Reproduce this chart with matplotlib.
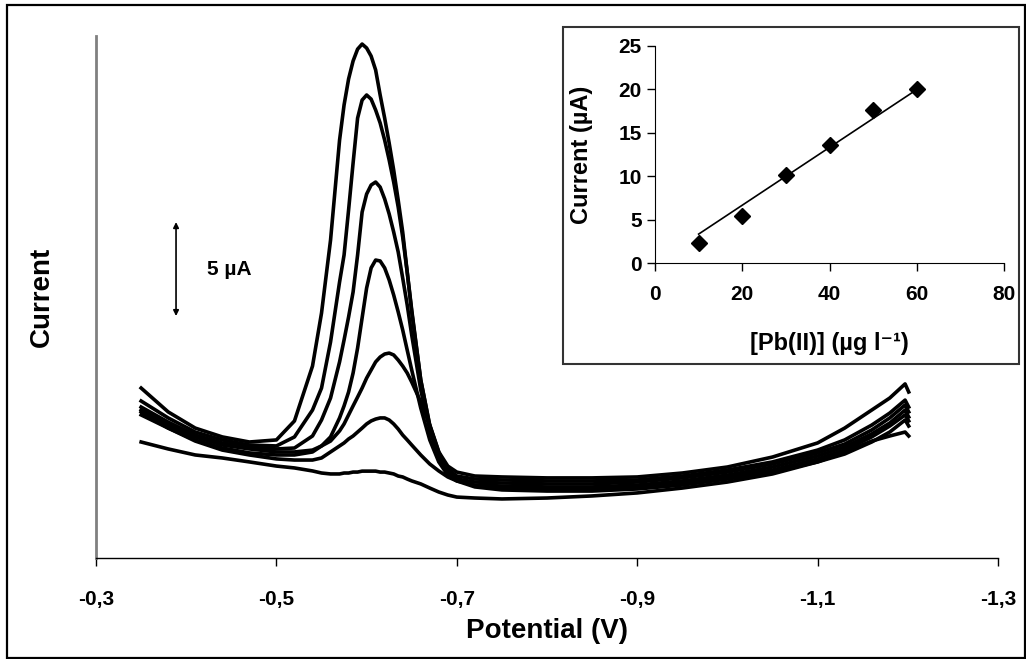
import matplotlib.pyplot as plt
from matplotlib.patches import Rectangle

plt.rcParams['font.family'] = ['Liberation Sans', 'DejaVu Sans']
plt.rcParams['font.weight'] = 'bold'

# --- stripping voltammograms (potential in V, current in µA) ---
potential = [-0.35, -0.38, -0.41, -0.44, -0.47, -0.50, -0.52, -0.54, -0.55, -0.56,
             -0.57, -0.575, -0.58, -0.585, -0.59, -0.595, -0.60, -0.605, -0.61, -0.615,
             -0.62, -0.625, -0.63, -0.635, -0.64, -0.645, -0.65, -0.66, -0.67, -0.68,
             -0.69, -0.70, -0.72, -0.75, -0.80, -0.85, -0.90, -0.95, -1.00, -1.05,
             -1.10, -1.13, -1.16, -1.18, -1.197, -1.201]

i_pb60 = [9.04, 7.77, 6.91, 6.44, 6.17, 6.28, 7.29, 10.21, 13.03, 16.91,
          22.23, 24.10, 25.48, 26.44, 27.07, 27.34, 27.13, 26.70, 25.96, 24.63,
          23.40, 22.07, 20.64, 19.04, 17.34, 15.21, 13.09, 9.47, 7.07, 5.64,
          4.89, 4.57, 4.36, 4.31, 4.26, 4.26, 4.31, 4.52, 4.84, 5.37,
          6.12, 6.91, 7.87, 8.51, 9.26, 8.83]
i_pb50 = [8.35, 7.45, 6.70, 6.28, 6.01, 5.96, 6.44, 7.87, 9.04, 11.49,
          14.68, 16.12, 18.51, 21.01, 23.40, 24.36, 24.63, 24.41, 23.83, 23.14,
          22.23, 21.17, 20.00, 18.67, 17.07, 15.21, 13.19, 9.47, 7.02, 5.48,
          4.73, 4.36, 4.20, 4.15, 4.10, 4.10, 4.15, 4.36, 4.68, 5.11,
          5.74, 6.28, 7.07, 7.71, 8.40, 8.03]
i_pb40 = [8.03, 7.23, 6.54, 6.12, 5.90, 5.80, 5.85, 6.49, 7.34, 8.51,
          10.43, 11.60, 12.82, 14.15, 16.12, 18.40, 19.36, 19.84, 20.00, 19.73,
          19.10, 18.30, 17.34, 16.28, 14.89, 13.46, 11.86, 8.94, 6.81, 5.32,
          4.57, 4.20, 4.04, 3.99, 3.94, 3.94, 4.04, 4.26, 4.57, 5.00,
          5.59, 6.06, 6.81, 7.45, 8.14, 7.77]
i_pb30 = [7.87, 7.07, 6.44, 6.01, 5.80, 5.64, 5.64, 5.74, 5.96, 6.44,
          7.45, 8.09, 8.83, 9.84, 11.17, 12.77, 14.36, 15.43, 15.85, 15.80,
          15.43, 14.79, 13.99, 13.09, 12.13, 11.06, 10.00, 7.98, 6.28, 5.11,
          4.41, 4.10, 3.88, 3.83, 3.78, 3.78, 3.88, 4.10, 4.41, 4.84,
          5.43, 5.90, 6.60, 7.18, 7.87, 7.50]
i_pb20 = [7.61, 6.91, 6.28, 5.85, 5.59, 5.48, 5.48, 5.64, 5.96, 6.22,
          6.76, 7.13, 7.61, 8.09, 8.56, 9.04, 9.57, 10.00, 10.43, 10.69,
          10.85, 10.90, 10.80, 10.53, 10.21, 9.84, 9.36, 8.30, 7.07, 5.64,
          4.63, 4.15, 3.83, 3.72, 3.67, 3.67, 3.78, 3.99, 4.31, 4.68,
          5.27, 5.74, 6.44, 7.02, 7.61, 7.29]
i_pb10 = [7.77, 6.91, 6.22, 5.74, 5.48, 5.27, 5.21, 5.21, 5.32, 5.64,
          5.96, 6.12, 6.33, 6.49, 6.70, 6.91, 7.13, 7.29, 7.39, 7.45,
          7.45, 7.34, 7.13, 6.86, 6.54, 6.28, 6.01, 5.48, 5.00, 4.63,
          4.31, 4.10, 3.78, 3.62, 3.56, 3.56, 3.67, 3.88, 4.20, 4.57,
          5.11, 5.53, 6.17, 6.70, 7.34, 7.02]
i_blank = [6.17, 5.80, 5.48, 5.32, 5.11, 4.89, 4.79, 4.63, 4.52, 4.47,
           4.47, 4.52, 4.52, 4.57, 4.57, 4.62, 4.62, 4.62, 4.62, 4.57,
           4.57, 4.52, 4.47, 4.36, 4.31, 4.20, 4.10, 3.94, 3.72, 3.51,
           3.35, 3.24, 3.19, 3.14, 3.19, 3.30, 3.46, 3.72, 4.04, 4.47,
           5.11, 5.64, 6.22, 6.49, 6.70, 6.49]
curves = [i_pb60, i_pb50, i_pb40, i_pb30, i_pb20, i_pb10, i_blank]

x_ticks = [-0.3, -0.5, -0.7, -0.9, -1.1, -1.3]
x_ticklabels = ['-0,3', '-0,5', '-0,7', '-0,9', '-1,1', '-1,3']

# scale bar (µA)
bar_potential = -0.3887
bar_low, bar_high = 12.87, 17.87

# --- calibration inset ---
pb_conc = [10, 20, 30, 40, 50, 60]
peak_current = [2.3, 5.4, 10.1, 13.6, 17.6, 20.1]
fit_slope, fit_intercept = 0.333, 0.0
fit_x = [10, 60]

fig = plt.figure(figsize=(10.26, 6.59), dpi=100)

# outer frame
fig.add_artist(Rectangle((7 / 1026, 1 / 659), 1018 / 1026, 653 / 659, transform=fig.transFigure,
                         fill=False, edgecolor='black', linewidth=1.6, zorder=5))

ax = fig.add_axes([0.0936, 0.1533, 0.8791, 0.7921])
for cur in curves:
    ax.plot(potential, cur, color='black', linewidth=2.6, solid_joinstyle='round')
ax.set_xlim(-0.3, -1.3)
ax.set_ylim(0, 27.77)
ax.set_xticks(x_ticks)
ax.set_xticklabels(x_ticklabels, fontsize=15, fontweight='bold')
ax.set_yticks([])
ax.tick_params(axis='x', direction='out', length=6, width=1, pad=17)
for side in ['top', 'right']:
    ax.spines[side].set_visible(False)
ax.spines['left'].set_color('#808080')
ax.spines['left'].set_linewidth(2)
ax.spines['bottom'].set_color('black')
ax.spines['bottom'].set_linewidth(1)
ax.set_xlabel('Potential (V)', fontsize=20, fontweight='bold')
ax.xaxis.set_label_coords(0.5, -0.14)
ax.xaxis.label.set_va('center')
ax.set_ylabel('Current', fontsize=20, fontweight='bold')
ax.yaxis.set_label_coords(-0.06, 0.5)
ax.yaxis.label.set_va('center')

ax.annotate('', xy=(bar_potential, bar_high), xytext=(bar_potential, bar_low),
            arrowprops=dict(arrowstyle='<|-|>', color='black', lw=1.2, mutation_scale=8,
                            shrinkA=0, shrinkB=0))
ax.text(-0.423, (bar_low + bar_high) / 2, '5 µA', fontsize=15, fontweight='bold',
        ha='left', va='center')

# inset background box
fig.add_artist(Rectangle((563 / 1026, 1 - 364 / 659), 456 / 1026, 337 / 659, transform=fig.transFigure,
                         facecolor='white', edgecolor='#333333', linewidth=1.5, zorder=2))

axi = fig.add_axes([0.6384, 0.6009, 0.3402, 0.3293], zorder=3)
axi.patch.set_alpha(0)
axi.plot(pb_conc, peak_current, linestyle='none', marker='D', markersize=8, color='black')
axi.plot(fit_x, [fit_slope * v + fit_intercept for v in fit_x], color='black', linewidth=1.2)
axi.set_xlim(0, 80)
axi.set_ylim(0, 25)
axi.set_xticks([0, 20, 40, 60, 80])
axi.set_yticks([0, 5, 10, 15, 20, 25])
axi.tick_params(labelsize=15, direction='out', length=6, width=1)
axi.tick_params(axis='x', pad=10)
for lab in axi.get_xticklabels() + axi.get_yticklabels():
    lab.set_fontweight('bold')
for side in ['top', 'right']:
    axi.spines[side].set_visible(False)
axi.set_xlabel('[Pb(II)] (µg l\u207b\u00b9)', fontsize=17, fontweight='bold')
axi.xaxis.set_label_coords(0.5, -0.37)
axi.xaxis.label.set_va('center')
axi.set_ylabel('Current (µA)', fontsize=17, fontweight='bold')
axi.yaxis.set_label_coords(-0.21, 0.5)
axi.yaxis.label.set_va('center')

fig.savefig('out.png', dpi=100)
